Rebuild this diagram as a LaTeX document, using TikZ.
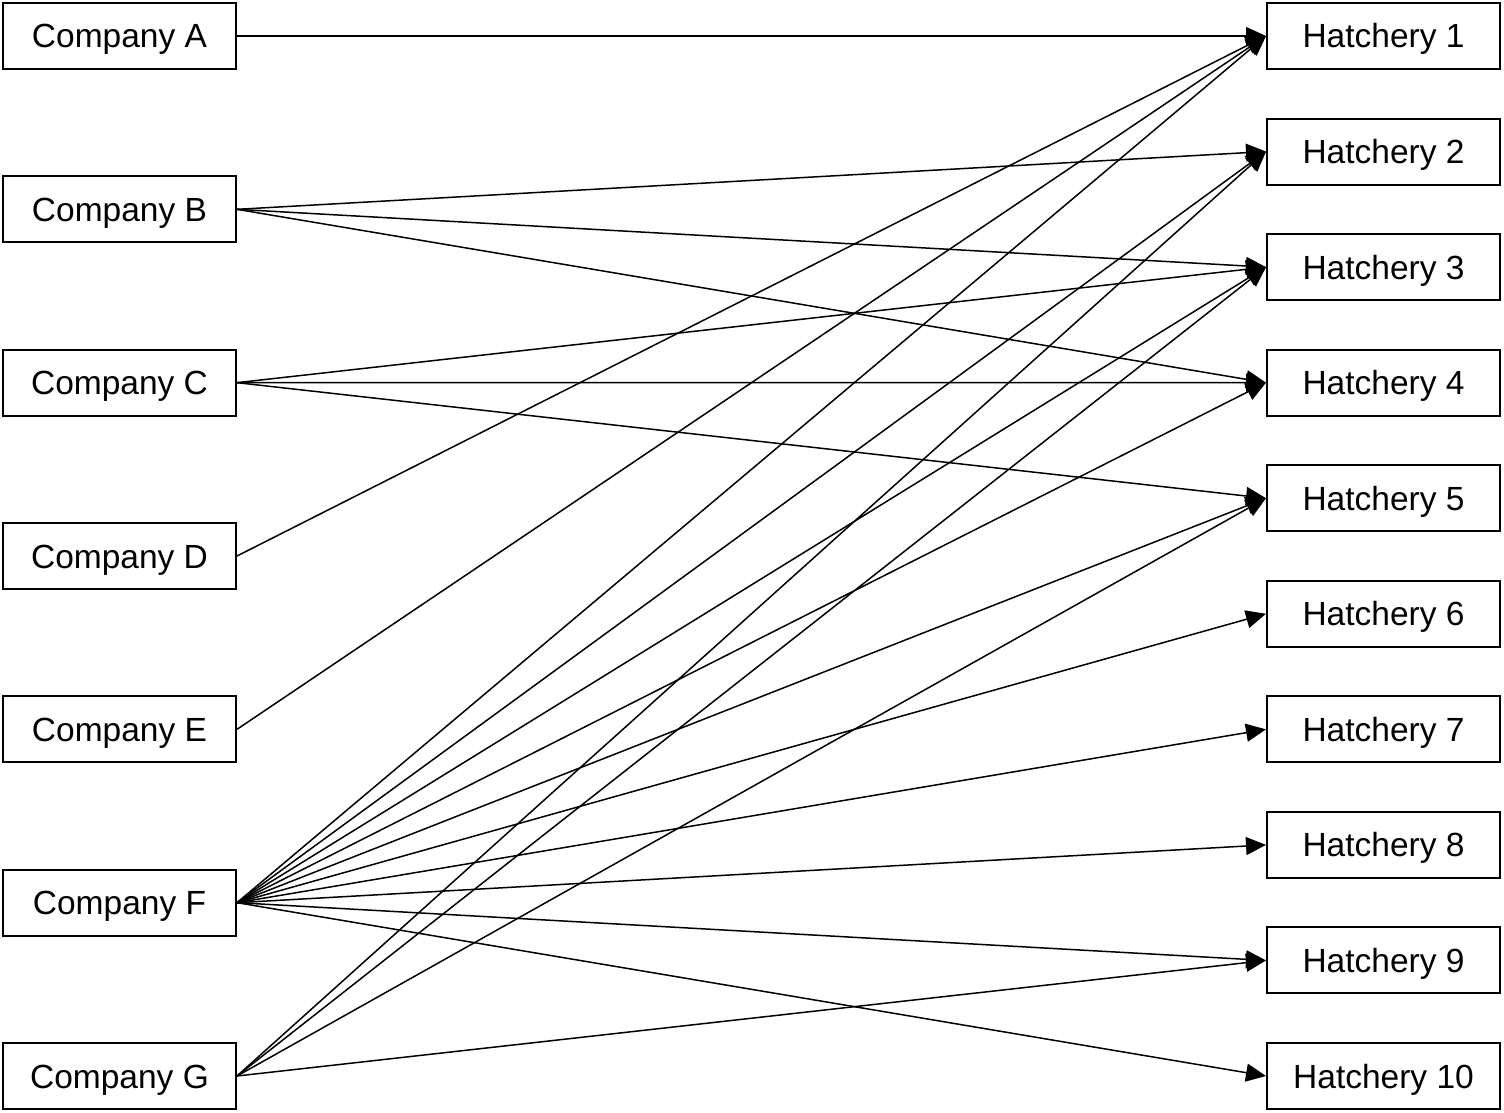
\documentclass[tikz,border=0pt]{standalone}
\usepackage{fontspec}
\setmainfont{Liberation Sans}
\usetikzlibrary{arrows.meta}
\begin{document}
\begin{tikzpicture}[x=0.5pt,y=-0.5pt,
  box/.style={draw, line width=1pt, minimum width=116.5pt, minimum height=33pt, inner sep=0pt, text height=12pt, text depth=0pt, font=\fontsize{16.75}{20}\selectfont},
  link/.style={line width=0.75pt, -{Triangle[length=10pt,width=9pt]}}]
\useasboundingbox (0,0) rectangle (1504,1113);
\foreach \n/\l [count=\i from 0] in {ca/A,cb/B,cc/C,cd/D,ce/E,cf/F,cg/G}
  \node[box] (\n) at (119.5,{36+\i*173.333}) {Company \l};
\foreach \i in {1,...,10}
  \node[box] (h\i) at (1383.5,{36+(\i-1)*115.556}) {Hatchery \i};
\draw[link] (ca.east) -- (h1.west);
\foreach \t in {2,3,4} \draw[link] (cb.east) -- (h\t.west);
\foreach \t in {3,4,5} \draw[link] (cc.east) -- (h\t.west);
\draw[link] (cd.east) -- (h1.west);
\draw[link] (ce.east) -- (h1.west);
\foreach \t in {1,...,10} \draw[link] (cf.east) -- (h\t.west);
\foreach \t in {2,3,5,9} \draw[link] (cg.east) -- (h\t.west);
\end{tikzpicture}
\end{document}
